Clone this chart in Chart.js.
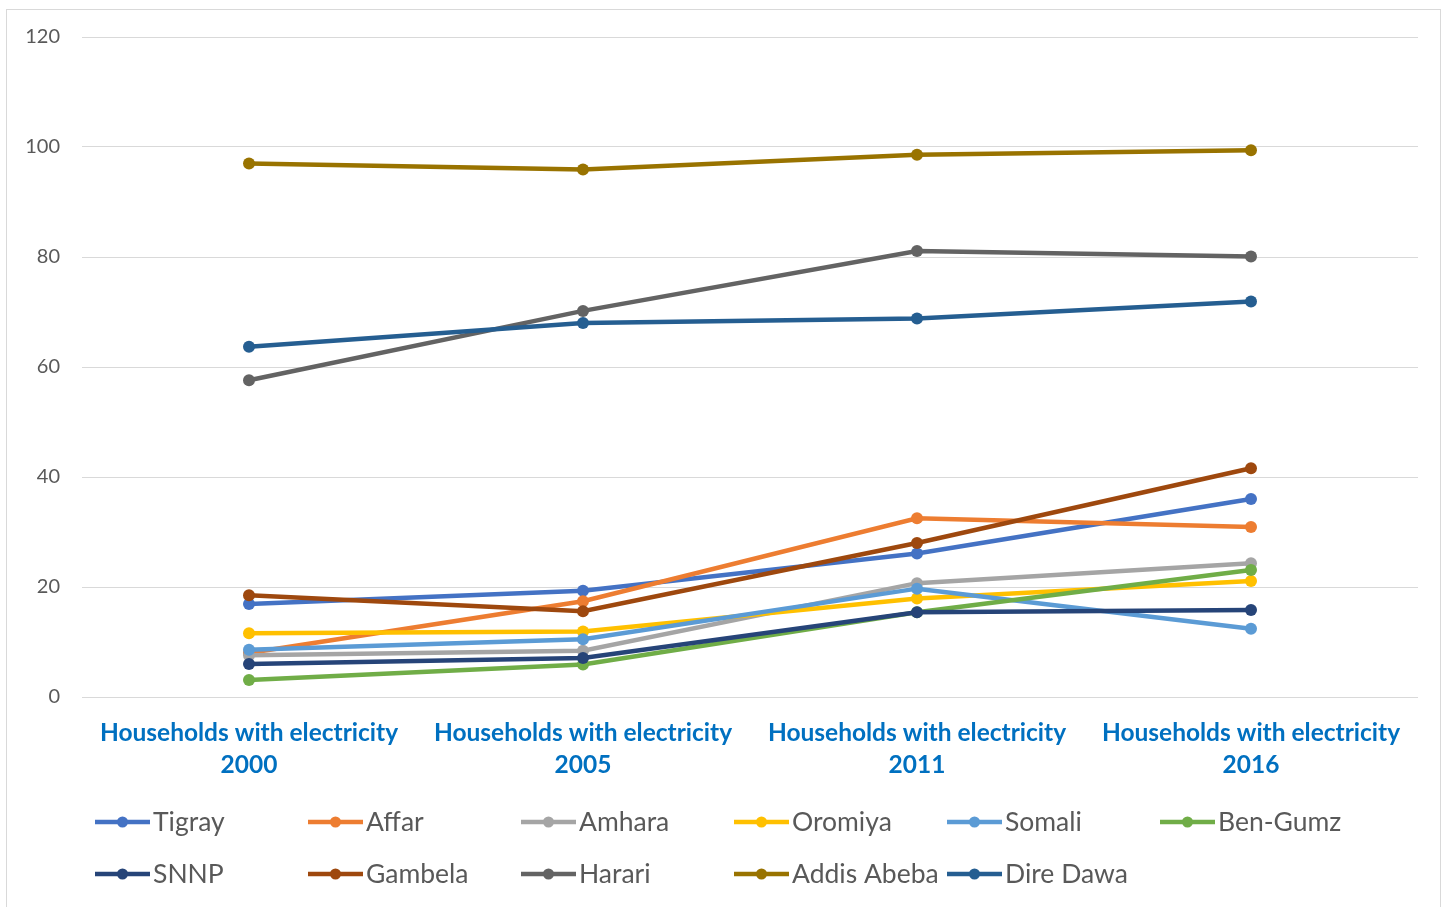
<!DOCTYPE html>
<html lang="en">
<head>
    <meta charset="UTF-8">
    <title>Households with electricity by region</title>
    <script src="https://cdn.jsdelivr.net/npm/chart.js"></script>
    <style>
        html, body { margin: 0; padding: 0; background: #fff; overflow: hidden; }
        .chart-box { position: relative; width: 1448px; height: 907px; }
    </style>
</head>
<body>
    <div class="chart-box">
        <canvas id="elecChart"></canvas>
    </div>

    <script>
        // Data
        const years = ['2000', '2005', '2011', '2016'];
        const regions = ['Tigray', 'Affar', 'Amhara', 'Oromiya', 'Somali', 'Ben-Gumz',
                         'SNNP', 'Gambela', 'Harari', 'Addis Abeba', 'Dire Dawa'];
        const tigray     = [16.9, 19.3, 26.1, 36.0];
        const affar      = [8.0, 17.4, 32.5, 30.9];
        const amhara     = [7.6, 8.4, 20.7, 24.3];
        const oromiya    = [11.6, 11.9, 17.9, 21.1];
        const somali     = [8.6, 10.5, 19.7, 12.4];
        const benGumz    = [3.1, 5.9, 15.4, 23.1];
        const snnp       = [6.0, 7.1, 15.4, 15.8];
        const gambela    = [18.5, 15.6, 28.0, 41.6];
        const harari     = [57.6, 70.2, 81.1, 80.1];
        const addisAbeba = [97.0, 95.9, 98.6, 99.4];
        const direDawa   = [63.7, 68.0, 68.8, 71.9];
        const yTicks = [0, 20, 40, 60, 80, 100, 120];

        const seriesValues = [tigray, affar, amhara, oromiya, somali, benGumz,
                              snnp, gambela, harari, addisAbeba, direDawa];
        const colors = ['#4472C4', '#ED7D31', '#A5A5A5', '#FFC000', '#5B9BD5', '#70AD47',
                        '#264478', '#9E480E', '#636363', '#997300', '#255E91'];

        const labels = years.map(y => ['Households with electricity', y]);

        const datasets = regions.map((name, i) => ({
            label: name,
            data: seriesValues[i],
            borderColor: colors[i],
            backgroundColor: colors[i],
            borderWidth: 4.5,
            pointRadius: 6,
            pointBorderWidth: 0,
            tension: 0,
            order: -i   // later series drawn on top, like the original
        }));

        // Legend drawn on the canvas in a fixed 6-column grid
        const gridLegend = {
            id: 'gridLegend',
            afterDraw(chart) {
                const ctx = chart.ctx;
                ctx.save();
                ctx.font = '26.5px Lato';
                ctx.textBaseline = 'middle';
                chart.data.datasets.forEach((ds, i) => {
                    const x0 = 95 + (i % 6) * 213;
                    const y = 822 + Math.floor(i / 6) * 52;
                    ctx.strokeStyle = ds.borderColor;
                    ctx.lineWidth = 4.5;
                    ctx.beginPath();
                    ctx.moveTo(x0, y);
                    ctx.lineTo(x0 + 55, y);
                    ctx.stroke();
                    ctx.fillStyle = ds.borderColor;
                    ctx.beginPath();
                    ctx.arc(x0 + 27.5, y, 5.5, 0, Math.PI * 2);
                    ctx.fill();
                    ctx.fillStyle = '#595959';
                    ctx.fillText(ds.label, x0 + 58, y);
                });
                ctx.restore();
            }
        };

        const frame = {
            id: 'frame',
            beforeDraw(chart) {
                const ctx = chart.ctx;
                ctx.save();
                ctx.strokeStyle = '#d9d9d9';
                ctx.lineWidth = 1;
                ctx.strokeRect(6.5, 9.5, 1434, 920);
                ctx.restore();
            }
        };

        const ctx = document.getElementById('elecChart').getContext('2d');
        new Chart(ctx, {
            type: 'line',
            data: { labels: labels, datasets: datasets },
            options: {
                responsive: true,
                maintainAspectRatio: false,
                animation: false,
                layout: { padding: { left: 0, top: 37, right: 30, bottom: 0 } },
                plugins: {
                    legend: { display: false },
                    tooltip: { enabled: false }
                },
                scales: {
                    x: {
                        offset: true,
                        grid: { display: false },
                        border: { display: false },
                        ticks: {
                            color: '#0070C0',
                            font: { family: 'Lato', size: 24.5, weight: 'bold', lineHeight: 1.3 },
                            padding: 12,
                            maxRotation: 0,
                            autoSkip: false
                        },
                        afterFit(scale) { scale.height = 210; }
                    },
                    y: {
                        min: 0,
                        max: 120,
                        afterBuildTicks(scale) { scale.ticks = yTicks.map(v => ({ value: v })); },
                        grid: { color: '#d9d9d9', lineWidth: 1, drawTicks: false },
                        border: { display: false },
                        ticks: {
                            color: '#595959',
                            font: { family: 'Lato', size: 20 },
                            padding: 22
                        },
                        afterFit(scale) { scale.width = 82; }
                    }
                }
            },
            plugins: [gridLegend, frame]
        });
    </script>
</body>
</html>
